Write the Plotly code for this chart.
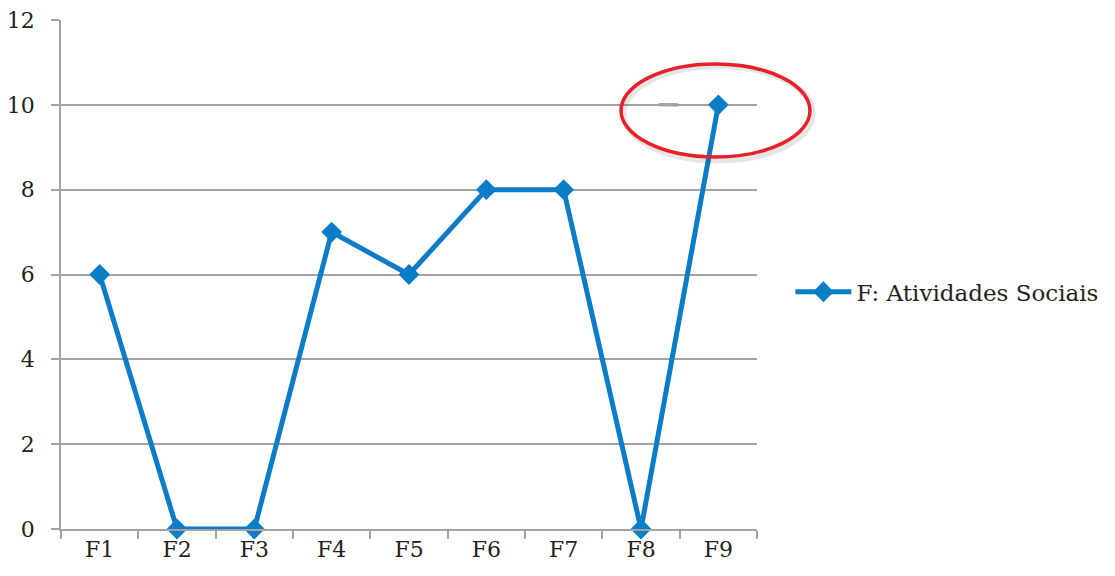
import plotly.graph_objects as go

# Dados
categorias = ['F1', 'F2', 'F3', 'F4', 'F5', 'F6', 'F7', 'F8', 'F9']
valores = [6, 0, 0, 7, 6, 8, 8, 0, 10]
serie_nome = 'F: Atividades Sociais'
y_ticks = [0, 2, 4, 6, 8, 10, 12]

azul = '#0a7dc6'
cinza = '#a3a3a3'
fonte = 'DejaVu Serif'

fig = go.Figure()
fig.add_trace(go.Scatter(x=categorias, y=valores, name=serie_nome,
                         mode='lines+markers', cliponaxis=False,
                         line=dict(color=azul, width=5),
                         marker=dict(symbol='diamond', size=16, color=azul)))

# pequeno traço escuro sobre a linha de grade do 10 (como no original)
fig.add_shape(type='line', xref='paper', yref='y', x0=0.859, x1=0.8865, y0=10, y1=10,
              line=dict(color='#7a7a7a', width=3), layer='below')

# Elipse vermelha em volta do ponto F9 (sombra + contorno), em coordenadas do papel
fig.add_shape(type='circle', xref='paper', yref='paper', x0=0.808, x1=1.080, y0=0.724, y1=0.909,
              line=dict(color='rgba(0,0,0,0.10)', width=6), layer='above')
fig.add_shape(type='circle', xref='paper', yref='paper', x0=0.8046, x1=1.0761, y0=0.7308, y1=0.9136,
              line=dict(color='#e8202a', width=3.5), layer='above')

fig.update_layout(
    width=1115, height=576,
    margin=dict(l=61, r=358, t=20, b=47),
    paper_bgcolor='white', plot_bgcolor='white',
    font=dict(family=fonte, size=22, color='#231f20'),
    showlegend=True,
    legend=dict(x=1.048, y=0.466, xanchor='left', yanchor='middle', itemwidth=56,
                font=dict(family=fonte, size=23, color='#231f20'),
                bgcolor='rgba(0,0,0,0)'),
    xaxis=dict(type='category', tickson='boundaries', ticks='outside', ticklen=8,
               tickcolor=cinza, tickwidth=1.5, showgrid=False,
               showline=True, linecolor=cinza, linewidth=1.5,
               range=[-0.5, 8.5], fixedrange=True, automargin=False),
    yaxis=dict(range=[0, 12], tickvals=y_ticks, ticks='outside', ticklen=8,
               tickcolor=cinza, tickwidth=1.5, showgrid=True, gridcolor=cinza,
               gridwidth=1.5, showline=True, linecolor=cinza, linewidth=1.5,
               zeroline=False, ticklabelstandoff=12, fixedrange=True, automargin=False),
)

# sem margem do body, para o gráfico começar no canto da janela
fig.write_html('out.html', config={'displayModeBar': False},
               post_script="document.body.style.margin='0px';")
